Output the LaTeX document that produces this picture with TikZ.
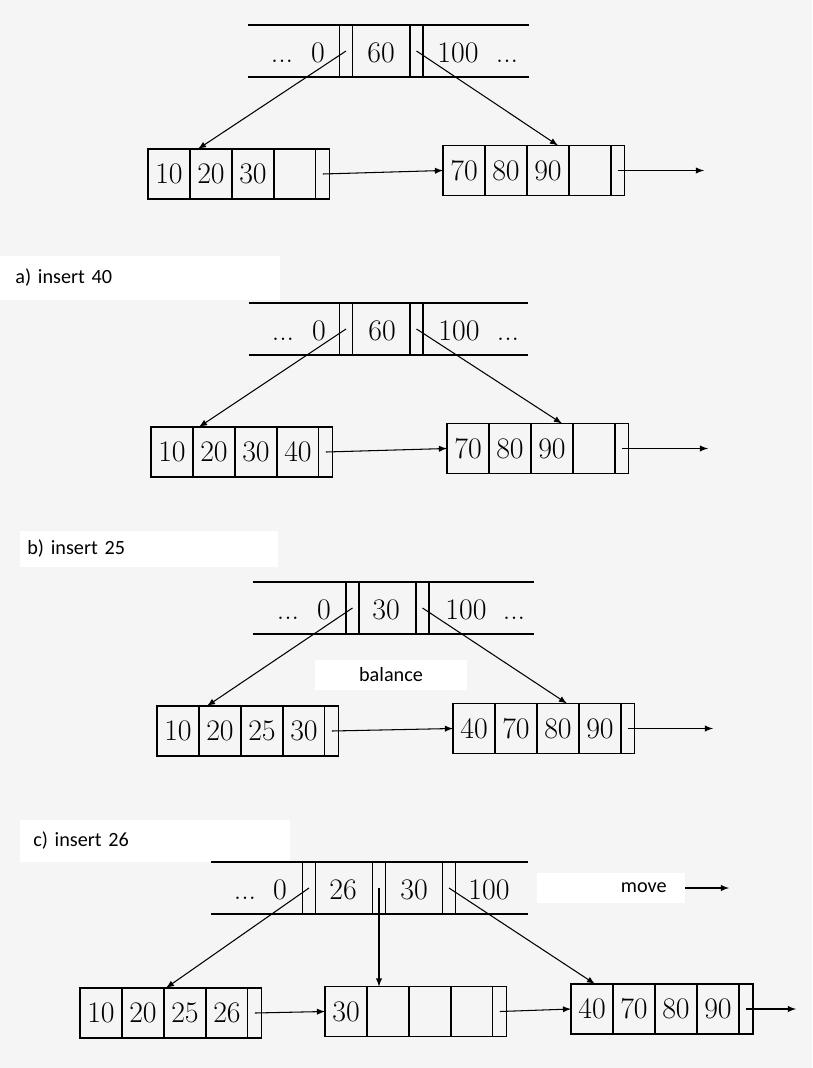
\documentclass[tikz,border=0pt]{standalone}
\usepackage{fontspec}
\usepackage{tikz}
\usetikzlibrary{positioning}

\newfontfamily\capfont{Carlito}
\newcommand{\keyfont}{\fontsize{17}{20}\selectfont}

\tikzset{
	cell/.style={draw, line width=0.6pt, outer sep=0pt, inner sep=0pt, minimum width=0.84cm, minimum height=1cm, font=\keyfont},
	ptrcell/.style={draw, line width=0.6pt, outer sep=0pt, inner sep=0pt, minimum width=0.28cm, minimum height=1cm},
	sepcell/.style={draw, line width=0.6pt, outer sep=0pt, inner sep=0pt, minimum width=0.26cm, minimum height=1.04cm},
	keytext/.style={font=\keyfont, inner sep=0pt, text height=11pt, text depth=0pt},
	caption/.style={font=\capfont\fontsize{11.5}{13}\selectfont, fill=white, anchor=west, align=left},
	link/.style={line width=0.6pt, -latex},
	rail/.style={line width=0.6pt},
}

% one leaf: four keys and a pointer field
\newcommand{\leafrow}[6]{%
	\node[cell, anchor=west] (#1a) at (#2) {#3};
	\node[cell, right=0pt of #1a] (#1b) {#4};
	\node[cell, right=0pt of #1b] (#1c) {#5};
	\node[cell, right=0pt of #1c] (#1d) {#6};
	\node[ptrcell, right=0pt of #1d] (#1p) {};
}

\begin{document}
\begin{tikzpicture}[x=0.02cm, y=-0.02cm]
	\useasboundingbox (0,0) rectangle (812,1068);
	\fill[black!4] (0,0) rectangle (812,1068);

	%Start
	\draw[rail] (248,25) -- (529,25);
	\draw[rail] (248,77) -- (529,77);
	\node[sepcell] (t1p1) at (346,51) {};
	\node[sepcell] (t1p2) at (416.5,51) {};
	\node[keytext] (t1d1) at (282,53) {...};
	\node[keytext] (t1k1) at (318,53) {0};
	\node[keytext] (t1k2) at (381,53) {60};
	\node[keytext] (t1k3) at (458,53) {100};
	\node[keytext] (t1d2) at (507,53) {...};
	\leafrow{l1}{148,174}{10}{20}{30}{}
	\leafrow{r1}{443,170.5}{70}{80}{90}{}
	\coordinate (o1) at (704,170.5);
	\draw[link] (t1p1.center) -- ([xshift=0.16cm]l1b.north west);
	\draw[link] (t1p2.center) -- ([xshift=-0.22cm]r1c.north east);
	\draw[link] (l1p.center) -- (r1a.west);
	\draw[link] (r1p.center) -- (o1);

	%a) insert 40
	\node[caption, text width=5cm, inner xsep=0.3cm, minimum height=0.9cm] (capa) at (0,278) {a) insert 40};
	\draw[rail] (249,303) -- (528,303);
	\draw[rail] (249,355) -- (528,355);
	\node[sepcell] (t2p1) at (346,329) {};
	\node[sepcell] (t2p2) at (416.5,329) {};
	\node[keytext] (t2d1) at (283,331) {...};
	\node[keytext] (t2k1) at (319,331) {0};
	\node[keytext] (t2k2) at (382,331) {60};
	\node[keytext] (t2k3) at (459,331) {100};
	\node[keytext] (t2d2) at (508,331) {...};
	\leafrow{l2}{151,452}{10}{20}{30}{40}
	\leafrow{r2}{447,448.5}{70}{80}{90}{}
	\coordinate (o2) at (708,448.5);
	\draw[link] (t2p1.center) -- ([xshift=0.12cm]l2b.north west);
	\draw[link] (t2p2.center) -- ([xshift=-0.22cm]r2c.north east);
	\draw[link] (l2p.center) -- (r2a.west);
	\draw[link] (r2p.center) -- (o2);

	%b) insert 25
	\node[caption, text width=4.88cm, inner xsep=0.14cm, minimum height=0.72cm] (capb) at (20,549) {b) insert 25};
	\draw[rail] (253,582) -- (534,582);
	\draw[rail] (253,634) -- (534,634);
	\node[sepcell] (t3p1) at (352.5,608) {};
	\node[sepcell] (t3p2) at (422.5,608) {};
	\node[keytext] (t3d1) at (288,610) {...};
	\node[keytext] (t3k1) at (324,610) {0};
	\node[keytext] (t3k2) at (386,610) {30};
	\node[keytext] (t3k3) at (466,610) {100};
	\node[keytext] (t3d2) at (514,610) {...};
	\node[caption, anchor=center, minimum width=3.06cm, minimum height=0.6cm] (bal) at (391,675) {balance};
	\leafrow{l3}{157,731}{10}{20}{25}{30}
	\leafrow{r3}{453,728.5}{40}{70}{80}{90}
	\coordinate (o3) at (713,728.5);
	\draw[link] (t3p1.center) -- ([xshift=0.16cm]l3b.north west);
	\draw[link] (t3p2.center) -- ([xshift=-0.24cm]r3c.north east);
	\draw[link] (l3p.center) -- (r3a.west);
	\draw[link] (r3p.center) -- (o3);

	%c) insert 26
	\node[caption, text width=4.88cm, inner xsep=0.26cm, minimum height=0.84cm] (capc) at (20,841) {c) insert 26};
	\draw[rail] (211,862) -- (528,862);
	\draw[rail] (211,914) -- (528,914);
	\node[sepcell] (t4p1) at (309,888) {};
	\node[sepcell] (t4p2) at (379,888) {};
	\node[sepcell] (t4p3) at (449,888) {};
	\node[keytext] (t4d1) at (245,890) {...};
	\node[keytext] (t4k1) at (280,890) {0};
	\node[keytext] (t4k2) at (343,890) {26};
	\node[keytext] (t4k3) at (414,890) {30};
	\node[keytext] (t4k4) at (489,890) {100};
	\node[caption, anchor=east, align=right, text width=2.24cm, inner xsep=0.36cm, minimum height=0.6cm] (mv) at (685,888) {move};
	\coordinate (mvend) at (729,888);
	\draw[link] (mv.east) -- (mvend);
	\leafrow{l4}{80,1013}{10}{20}{25}{26}
	\leafrow{m4}{325,1011.5}{30}{}{}{}
	\leafrow{r4}{571,1009}{40}{70}{80}{90}
	\coordinate (o4) at (796,1009);
	\draw[link] (t4p1.center) -- ([xshift=0.04cm]l4c.north west);
	\draw[link] (t4p2.center) -- (t4p2.center |- m4b.north);
	\draw[link] (t4p3.center) -- ([xshift=0.48cm]r4a.north west);
	\draw[link] (l4p.center) -- (m4a.west);
	\draw[link] (m4p.center) -- (r4a.west);
	\draw[link] (r4p.center) -- (o4);
\end{tikzpicture}
\end{document}
